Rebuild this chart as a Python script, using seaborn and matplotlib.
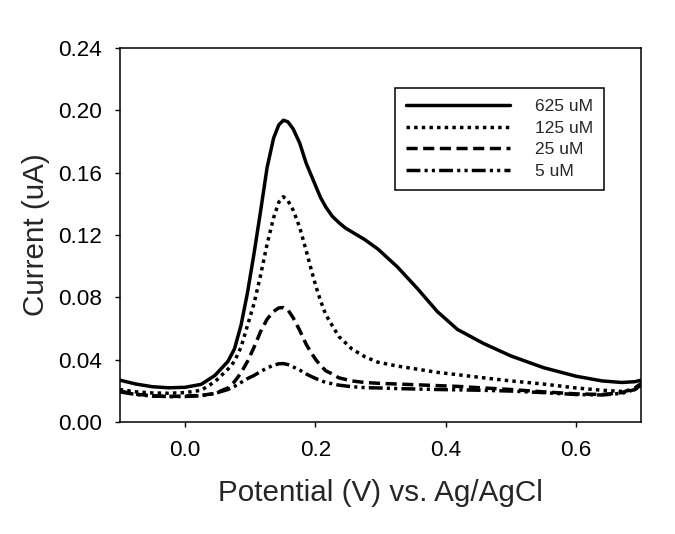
import matplotlib
matplotlib.use("Agg")
import matplotlib.pyplot as plt
import seaborn as sns

# potential (V) shared by all four scans
potential = [-0.100, -0.075, -0.050, -0.025, 0.000, 0.025, 0.046, 0.066, 0.076, 0.086,
             0.096, 0.106, 0.116, 0.126, 0.136, 0.144, 0.151, 0.158, 0.166, 0.176,
             0.186, 0.193, 0.201, 0.208, 0.216, 0.226, 0.236, 0.246, 0.256, 0.266,
             0.276, 0.296, 0.326, 0.357, 0.387, 0.418, 0.458, 0.500, 0.550, 0.600,
             0.640, 0.670, 0.690, 0.700]

# current (uA) for each concentration
i_625 = [0.0270, 0.0245, 0.0228, 0.0221, 0.0224, 0.0243, 0.0300, 0.0390, 0.0470, 0.0620,
         0.0830, 0.1080, 0.1350, 0.1630, 0.1820, 0.1905, 0.1935, 0.1925, 0.1880, 0.1790,
         0.1660, 0.1590, 0.1510, 0.1440, 0.1380, 0.1320, 0.1280, 0.1245, 0.1220, 0.1195,
         0.1170, 0.1110, 0.0995, 0.0855, 0.0710, 0.0595, 0.0505, 0.0425, 0.0350, 0.0295,
         0.0265, 0.0255, 0.0260, 0.0270]
i_125 = [0.0210, 0.0195, 0.0188, 0.0186, 0.0190, 0.0205, 0.0260, 0.0340, 0.0390, 0.0480,
         0.0620, 0.0760, 0.0940, 0.1140, 0.1310, 0.1410, 0.1445, 0.1420, 0.1360, 0.1250,
         0.1100, 0.0990, 0.0870, 0.0780, 0.0690, 0.0620, 0.0550, 0.0510, 0.0470, 0.0445,
         0.0420, 0.0385, 0.0360, 0.0340, 0.0320, 0.0305, 0.0285, 0.0265, 0.0245, 0.0220,
         0.0205, 0.0198, 0.0210, 0.0235]
i_25 = [0.0200, 0.0180, 0.0170, 0.0165, 0.0168, 0.0172, 0.0185, 0.0220, 0.0260, 0.0316,
        0.0390, 0.0480, 0.0580, 0.0660, 0.0710, 0.0733, 0.0735, 0.0720, 0.0670, 0.0590,
        0.0500, 0.0450, 0.0400, 0.0365, 0.0330, 0.0310, 0.0285, 0.0275, 0.0265, 0.0260,
        0.0255, 0.0250, 0.0245, 0.0240, 0.0235, 0.0230, 0.0220, 0.0210, 0.0195, 0.0182,
        0.0178, 0.0190, 0.0220, 0.0250]
i_5 = [0.0195, 0.0178, 0.0168, 0.0165, 0.0165, 0.0170, 0.0185, 0.0210, 0.0230, 0.0255,
       0.0280, 0.0300, 0.0325, 0.0348, 0.0365, 0.0375, 0.0376, 0.0370, 0.0355, 0.0335,
       0.0310, 0.0295, 0.0280, 0.0268, 0.0255, 0.0247, 0.0238, 0.0233, 0.0228, 0.0225,
       0.0222, 0.0220, 0.0216, 0.0213, 0.0210, 0.0208, 0.0205, 0.0200, 0.0190, 0.0178,
       0.0175, 0.0185, 0.0210, 0.0240]

labels = ["625 uM", "125 uM", "25 uM", "5 uM"]
styles = ["-", (0, (1, 1.2)), (0, (3.2, 1.6)), (0, (4, 1.2, 0.9, 1.2, 0.9, 1.2))]

x_ticks = [0.0, 0.2, 0.4, 0.6]
x_ticklabels = ["0.0", "0.2", "0.4", "0.6"]
y_ticks = [0.00, 0.04, 0.08, 0.12, 0.16, 0.20, 0.24]
y_ticklabels = ["0.00", "0.04", "0.08", "0.12", "0.16", "0.20", "0.24"]

sns.set_style("ticks")
plt.rcParams["font.family"] = ["Liberation Sans", "DejaVu Sans"]

fig = plt.figure(figsize=(6.75, 5.34), dpi=100)
ax = fig.add_axes([0.1773, 0.2092, 0.9501 - 0.1773, 0.9107 - 0.2092])

for cur, lab, ls in zip([i_625, i_125, i_25, i_5], labels, styles):
    sns.lineplot(x=potential, y=cur, ax=ax, color="black", linewidth=2.5,
                 linestyle=ls, label=lab, errorbar=None)

ax.set_xlim(-0.1, 0.7)
ax.set_ylim(0, 0.24)
ax.set_xticks(x_ticks)
ax.set_xticklabels(x_ticklabels)
ax.set_yticks(y_ticks)
ax.set_yticklabels(y_ticklabels)
ax.tick_params(direction="out", length=3.6, width=1, labelsize=16.2, pad=9,
               colors="black")
for sp in ax.spines.values():
    sp.set_visible(True)
    sp.set_linewidth(1.1)
    sp.set_color("black")

ax.set_xlabel("Potential (V) vs. Ag/AgCl", fontsize=21.3, labelpad=13)
ax.set_ylabel("Current (uA)", fontsize=21.3, labelpad=6)

leg = ax.legend(loc="upper left", bbox_to_anchor=(395 / 675, 1 - 88 / 534),
                bbox_transform=fig.transFigure, borderaxespad=0, fontsize=12.5,
                handlelength=6.0, handletextpad=1.4, labelspacing=0.36,
                borderpad=0.65, fancybox=False, framealpha=1, edgecolor="black")
leg.get_frame().set_linewidth(1.1)

fig.savefig("out.png", dpi=100)
